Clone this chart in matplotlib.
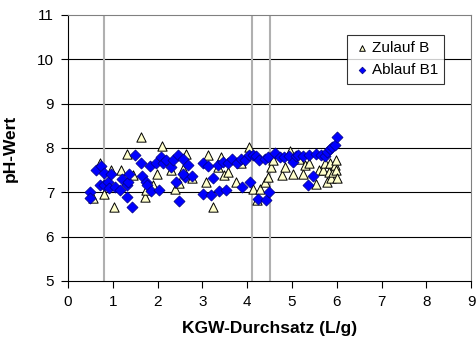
import matplotlib.pyplot as plt

plt.rcParams['font.family'] = ['Liberation Sans', 'DejaVu Sans']

# Zulauf B (triangles)
zulauf_x = [0.55, 0.72, 0.80, 0.95, 1.02, 1.18, 1.31, 1.44, 1.62, 1.71, 1.74, 1.89,
            1.98, 2.09, 2.29, 2.38, 2.47, 2.56, 2.64, 2.77, 3.08, 3.13, 3.23, 3.34,
            3.42, 3.49, 3.58, 3.75, 3.86, 4.04, 4.12, 4.21, 4.29, 4.39, 4.46, 4.52,
            4.57, 4.78, 4.85, 4.96, 5.03, 5.15, 5.24, 5.28, 5.38, 5.54, 5.61, 5.69,
            5.74, 5.78, 5.82, 5.84, 5.88, 5.91, 5.95, 5.97, 5.99, 6.01]
zulauf_y = [6.88, 7.67, 6.97, 7.51, 6.67, 7.51, 7.86, 7.39, 8.25, 6.89, 7.04, 7.16,
            7.41, 8.04, 7.51, 7.08, 7.20, 7.53, 7.87, 7.31, 7.23, 7.83, 6.67, 7.57,
            7.80, 7.39, 7.46, 7.23, 7.65, 8.01, 7.08, 6.82, 7.07, 7.23, 7.35, 7.57,
            7.72, 7.39, 7.57, 7.93, 7.42, 7.75, 7.42, 7.61, 7.65, 7.18, 7.50, 7.50,
            7.65, 7.23, 7.46, 7.65, 7.31, 7.46, 7.61, 7.72, 7.50, 7.31]

# Ablauf B1 (diamonds)
ablauf_x = [0.48, 0.48, 0.63, 0.74, 0.72, 0.81, 0.80, 0.89, 0.95, 0.92, 1.04, 1.15,
            1.21, 1.31, 1.33, 1.31, 1.37, 1.43, 1.50, 1.62, 1.65, 1.73, 1.76, 1.84,
            1.85, 1.97, 2.04, 2.07, 2.11, 2.19, 2.29, 2.34, 2.40, 2.45, 2.47, 2.56,
            2.60, 2.67, 2.77, 2.56, 3.01, 3.02, 3.12, 3.19, 3.23, 3.34, 3.38, 3.45,
            3.53, 3.56, 3.66, 3.77, 3.85, 3.89, 3.96, 4.04, 4.07, 4.12, 4.20, 4.24,
            4.27, 4.39, 4.42, 4.48, 4.46, 4.63, 4.72, 4.83, 4.93, 5.02, 5.09, 5.13,
            5.24, 5.38, 5.36, 5.47, 5.54, 5.65, 5.73, 5.78, 5.84, 5.90, 5.96, 6.01]
ablauf_y = [7.01, 6.88, 7.51, 7.59, 7.16, 7.44, 7.17, 7.23, 7.42, 7.10, 7.12, 7.05,
            7.29, 7.16, 7.23, 6.89, 7.41, 6.67, 7.85, 7.65, 7.37, 7.23, 7.16, 7.59,
            7.03, 7.65, 7.06, 7.80, 7.65, 7.72, 7.57, 7.72, 7.23, 7.83, 6.80, 7.76,
            7.35, 7.61, 7.36, 7.42, 7.65, 6.97, 7.59, 6.93, 7.33, 7.61, 7.03, 7.68,
            7.06, 7.65, 7.76, 7.65, 7.76, 7.12, 7.72, 7.83, 7.23, 7.83, 7.81, 6.84,
            7.72, 7.76, 6.82, 7.01, 7.80, 7.89, 7.80, 7.80, 7.81, 7.68, 7.81, 7.83,
            7.81, 7.83, 7.16, 7.37, 7.87, 7.83, 7.81, 7.91, 7.98, 8.02, 8.06, 8.25]

vlines_x = [0.8, 4.1, 4.5]

fig = plt.figure(figsize=(4.76, 3.4), dpi=100)
ax = fig.add_axes([0.143, 0.174, 0.847, 0.782])

for y in range(6, 11):
    ax.axhline(y, color='black', lw=0.8, zorder=1)
for x in vlines_x:
    ax.axvline(x, color='#b0b0b0', lw=1.5, zorder=1)

ax.scatter(zulauf_x, zulauf_y, marker='^', s=45, facecolor='#ffffcc',
           edgecolor='black', linewidth=0.7, label='Zulauf B', zorder=3)
ax.scatter(ablauf_x, ablauf_y, marker='D', s=32, facecolor='#0000ff',
           edgecolor='#000080', linewidth=0.5, label='Ablauf B1', zorder=4)

ax.set_xlim(0, 9)
ax.set_ylim(5, 11)
ax.set_xticks(range(0, 10))
ax.set_yticks(range(5, 12))
ax.tick_params(labelsize=11, direction='out', length=5, width=0.8, pad=5)
ax.set_xlabel('KGW-Durchsatz (L/g)', fontsize=12.5, fontweight='bold')
ax.set_ylabel('pH-Wert', fontsize=12.5, fontweight='bold')
ax.xaxis.set_label_coords(0.5, -0.15)
ax.yaxis.set_label_coords(-0.125, 0.5)

for s in ['top', 'right']:
    ax.spines[s].set_color('#808080')
for s in ['left', 'bottom']:
    ax.spines[s].set_color('black')

leg = ax.legend(loc='upper left', bbox_to_anchor=(0.692, 0.925), fontsize=11,
                frameon=True, fancybox=False, edgecolor='black',
                handletextpad=0.1, handlelength=1.1, borderpad=0.4,
                labelspacing=0.55, markerscale=0.6, borderaxespad=0)
leg.get_frame().set_linewidth(0.8)

fig.savefig('out.png', dpi=100)
